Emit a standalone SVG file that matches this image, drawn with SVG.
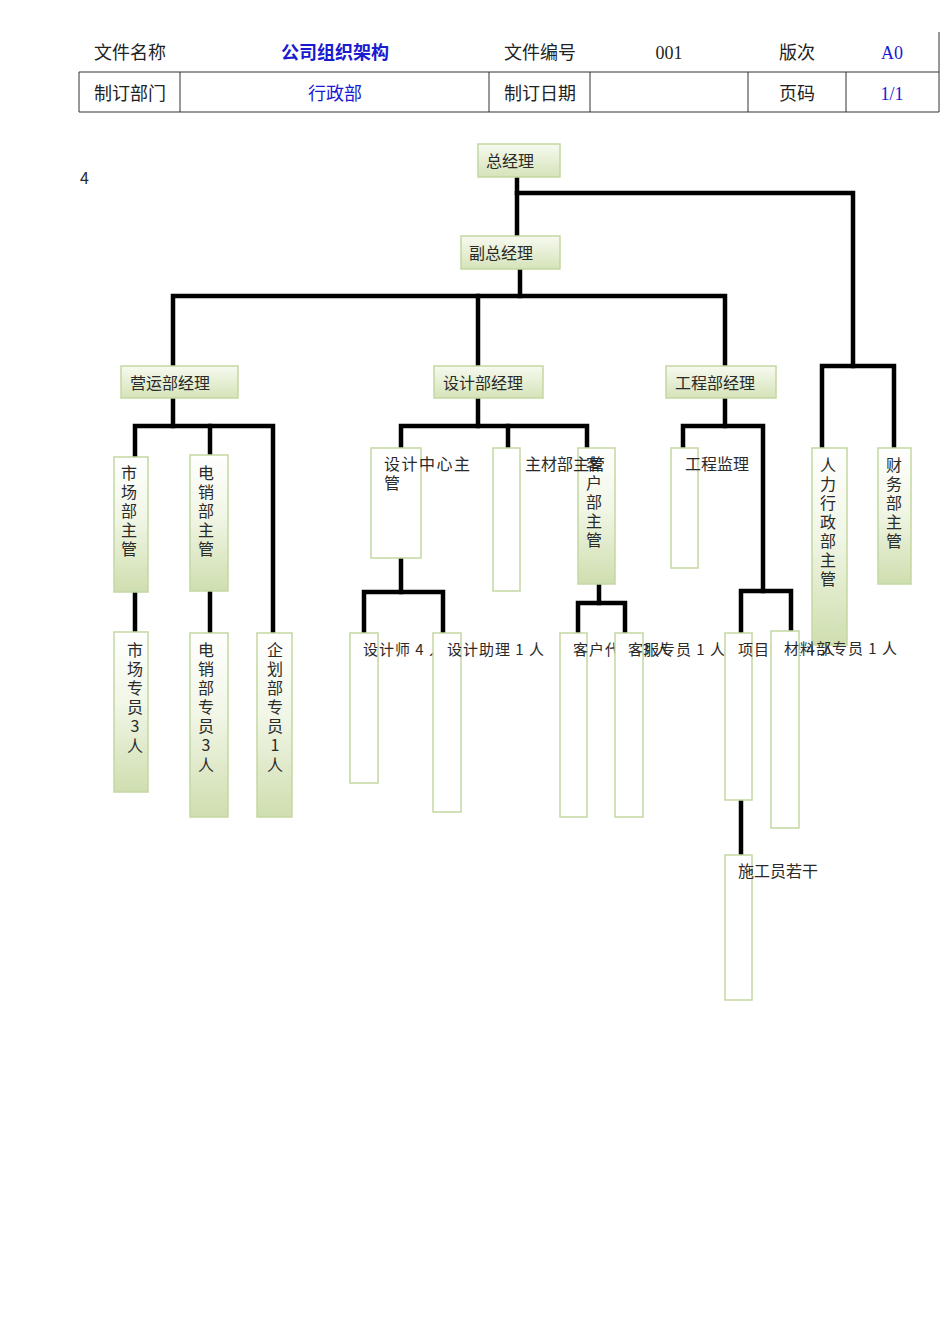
<svg xmlns="http://www.w3.org/2000/svg" width="950" height="1344" viewBox="0 0 950 1344">
<defs>
<linearGradient id="gh" x1="0" y1="0" x2="0" y2="1">
<stop offset="0" stop-color="#f7faf0"/>
<stop offset="1" stop-color="#d5e3b9"/>
</linearGradient>
<linearGradient id="gv" x1="0" y1="0" x2="0" y2="1">
<stop offset="0" stop-color="#ffffff"/>
<stop offset="0.45" stop-color="#f1f6e6"/>
<stop offset="1" stop-color="#cfdeaf"/>
</linearGradient>
</defs>
<style>
.hd{font-family:"Noto Sans CJK SC","Noto Sans",sans-serif;font-size:18px;fill:#222;text-anchor:middle}
.hb{fill:#1a1ad0}
.hbb{font-weight:bold}
.tl{stroke:#333;stroke-width:1}
.g{fill:url(#gh);stroke:#c4d7a0;stroke-width:1.5}
.v{fill:url(#gv);stroke:#c4d7a0;stroke-width:1.5}
.w{fill:#fff;stroke:#c4d7a0;stroke-width:1.5}
.t{font-family:"Noto Sans CJK SC","Noto Sans",sans-serif;font-size:16px;fill:#2a2a2a}
.s{font-size:15px;letter-spacing:1px}
.vt{text-anchor:middle}
.c{fill:none;stroke:#000;stroke-width:4.5;stroke-linejoin:miter;stroke-linecap:square}
</style>
<rect width="950" height="1344" fill="#fff"/>
<g id="header">
<line class="tl" x1="79" y1="72" x2="939" y2="72"/>
<line class="tl" x1="79" y1="112" x2="939" y2="112"/>
<line class="tl" x1="939" y1="32" x2="939" y2="112"/>
<line class="tl" x1="79" y1="72" x2="79" y2="112"/>
<line class="tl" x1="180" y1="72" x2="180" y2="112"/>
<line class="tl" x1="489" y1="72" x2="489" y2="112"/>
<line class="tl" x1="590" y1="72" x2="590" y2="112"/>
<line class="tl" x1="748" y1="72" x2="748" y2="112"/>
<line class="tl" x1="846" y1="72" x2="846" y2="112"/>
<text class="hd" x="130" y="59">文件名称</text>
<text class="hd hb hbb" x="335" y="59">公司组织架构</text>
<text class="hd" x="540" y="59">文件编号</text>
<text class="hd" x="669" y="59" style="font-family:'Liberation Serif',serif">001</text>
<text class="hd" x="797" y="59">版次</text>
<text class="hd hb" x="892" y="59" style="font-family:'Liberation Serif',serif">A0</text>
<text class="hd" x="130" y="100">制订部门</text>
<text class="hd hb" x="335" y="100">行政部</text>
<text class="hd" x="540" y="100">制订日期</text>
<text class="hd" x="797" y="100">页码</text>
<text class="hd hb" x="892" y="100" style="font-family:'Liberation Serif',serif">1/1</text>
</g>
<text class="t" x="80" y="184">4</text>
<g id="connectors">
<path class="c" d="M517,177 V236"/>
<path class="c" d="M517,193 H853 V366"/>
<path class="c" d="M822,448 V366 H894 V448"/>
<path class="c" d="M520,269 V296"/>
<path class="c" d="M173,366 V296 H725 V366"/>
<path class="c" d="M478,296 V366"/>
<path class="c" d="M173,398 V426"/>
<path class="c" d="M135,457 V426 H273 V633"/>
<path class="c" d="M210,426 V455"/>
<path class="c" d="M135,592 V633"/>
<path class="c" d="M210,591 V633"/>
<path class="c" d="M478,398 V426"/>
<path class="c" d="M401,448 V426 H587 V448"/>
<path class="c" d="M508,426 V448"/>
<path class="c" d="M401,558 V592"/>
<path class="c" d="M364,633 V592 H443 V633"/>
<path class="c" d="M599,584 V603"/>
<path class="c" d="M578,633 V603 H625 V633"/>
<path class="c" d="M725,398 V426"/>
<path class="c" d="M683,448 V426 H763 V591"/>
<path class="c" d="M741,633 V591 H791 V631"/>
<path class="c" d="M741,800 V855"/>
</g>
<g id="n-zjl"><rect class="g" x="478" y="144" width="82" height="33"/><text class="t" x="486" y="167">总经理</text></g>
<g id="n-fzjl"><rect class="g" x="461" y="236" width="99" height="33"/><text class="t" x="469" y="259">副总经理</text></g>
<g id="n-yy"><rect class="g" x="121" y="366" width="117" height="32"/><text class="t" x="130" y="389">营运部经理</text></g>
<g id="n-sj"><rect class="g" x="434" y="366" width="109" height="32"/><text class="t" x="443" y="389">设计部经理</text></g>
<g id="n-gc"><rect class="g" x="666" y="366" width="110" height="32"/><text class="t" x="675" y="389">工程部经理</text></g>

<g id="n-scbzg"><rect class="v" x="114" y="457" width="34" height="135"/>
<text class="t vt"><tspan x="129" y="479">市</tspan><tspan x="129" y="498">场</tspan><tspan x="129" y="517">部</tspan><tspan x="129" y="536">主</tspan><tspan x="129" y="555">管</tspan></text></g>
<g id="n-dxbzg"><rect class="v" x="190" y="455" width="38" height="136"/>
<text class="t vt"><tspan x="206" y="479">电</tspan><tspan x="206" y="498">销</tspan><tspan x="206" y="517">部</tspan><tspan x="206" y="536">主</tspan><tspan x="206" y="555">管</tspan></text></g>
<g id="n-sczy"><rect class="v" x="114" y="632" width="34" height="160"/>
<text class="t vt"><tspan x="135" y="656">市</tspan><tspan x="135" y="675">场</tspan><tspan x="135" y="694">专</tspan><tspan x="135" y="713">员</tspan><tspan x="135" y="732">3</tspan><tspan x="135" y="752">人</tspan></text></g>
<g id="n-dxzy"><rect class="v" x="190" y="633" width="38" height="184"/>
<text class="t vt"><tspan x="206" y="656">电</tspan><tspan x="206" y="675">销</tspan><tspan x="206" y="694">部</tspan><tspan x="206" y="713">专</tspan><tspan x="206" y="732">员</tspan><tspan x="206" y="751">3</tspan><tspan x="206" y="771">人</tspan></text></g>
<g id="n-qhzy"><rect class="v" x="257" y="633" width="35" height="184"/>
<text class="t vt"><tspan x="275" y="656">企</tspan><tspan x="275" y="675">划</tspan><tspan x="275" y="694">部</tspan><tspan x="275" y="713">专</tspan><tspan x="275" y="732">员</tspan><tspan x="275" y="751">1</tspan><tspan x="275" y="771">人</tspan></text></g>

<g id="n-sjzx"><rect class="w" x="371" y="448" width="50" height="110"/>
<text class="t" style="letter-spacing:1.5px"><tspan x="384" y="470">设计中心主</tspan><tspan x="384" y="489">管</tspan></text></g>
<g id="n-khbzg"><rect class="v" x="578" y="448" width="37" height="136"/>
<text class="t vt"><tspan x="594" y="470">客</tspan><tspan x="594" y="489">户</tspan><tspan x="594" y="508">部</tspan><tspan x="594" y="527">主</tspan><tspan x="594" y="546">管</tspan></text></g>
<g id="n-zcb"><rect class="w" x="493" y="448" width="27" height="143"/>
<text class="t" x="525" y="470">主材部主管</text></g>
<g id="n-sjs"><rect class="w" x="350" y="633" width="28" height="150"/>
<text class="t s" x="363" y="655">设计师 4 人</text></g>
<g id="n-sjzl"><rect class="w" x="433" y="633" width="28" height="179"/>
<text class="t s" x="447" y="655">设计助理 1 人</text></g>
<g id="n-khdb"><rect class="w" x="560" y="633" width="27" height="184"/>
<text class="t s" x="573" y="655">客户代表 3 人</text></g>
<g id="n-kfzy"><rect class="w" x="615" y="633" width="28" height="184"/>
<text class="t s" x="628" y="655">客服专员 1 人</text></g>

<g id="n-gcjl"><rect class="w" x="671" y="448" width="27" height="120"/>
<text class="t" x="685" y="470">工程监理</text></g>
<g id="n-xmjl"><rect class="w" x="725" y="633" width="27" height="167"/>
<text class="t s" x="738" y="655">项目经理 4 人</text></g>
<g id="n-rlxz"><rect class="v" x="812" y="448" width="35" height="197"/>
<text class="t vt"><tspan x="828" y="471">人</tspan><tspan x="828" y="490">力</tspan><tspan x="828" y="509">行</tspan><tspan x="828" y="528">政</tspan><tspan x="828" y="547">部</tspan><tspan x="828" y="566">主</tspan><tspan x="828" y="585">管</tspan></text></g>
<g id="n-clzy"><rect class="w" x="771" y="631" width="28" height="197"/>
<text class="t s" x="784" y="654">材料部专员 1 人</text></g>
<g id="n-sgy"><rect class="w" x="725" y="855" width="27" height="145"/>
<text class="t" x="738" y="877">施工员若干</text></g>

<g id="n-cw"><rect class="v" x="878" y="448" width="33" height="136"/>
<text class="t vt"><tspan x="894" y="471">财</tspan><tspan x="894" y="490">务</tspan><tspan x="894" y="509">部</tspan><tspan x="894" y="528">主</tspan><tspan x="894" y="547">管</tspan></text></g>
</svg>
